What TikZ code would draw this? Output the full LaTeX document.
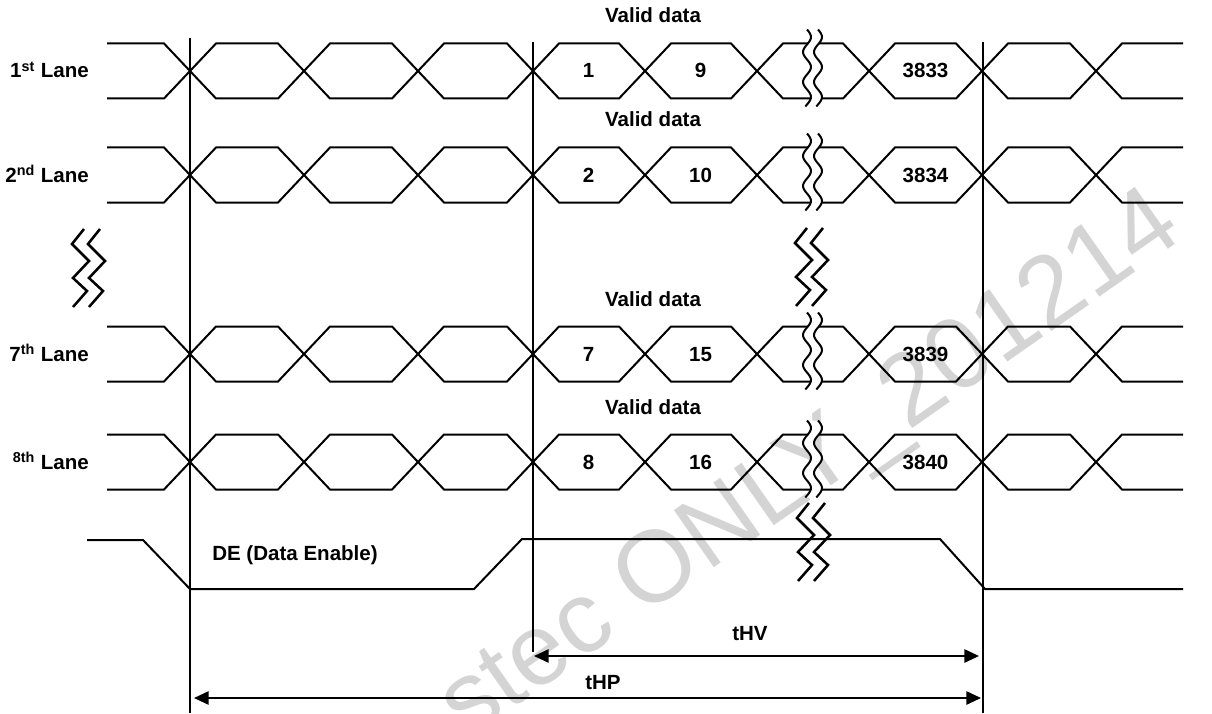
\documentclass[tikz,border=0pt]{standalone}
\usepackage{fontspec}
\setmainfont{Liberation Sans}
\usetikzlibrary{arrows.meta, positioning, calc}
\definecolor{wmgray}{RGB}{212,212,212}

% squiggle break across one lane: x, top y
\newcommand{\lanebreak}[2]{%
  \fill[white] plot[domain=0:77, samples=40] ({#1+4*sin(\x*12)},{#2+\x})
    -- plot[domain=77:0, samples=40] ({#1+11+4*sin(\x*12)},{#2+\x}) -- cycle;
  \draw[sig] plot[domain=0:77, samples=40] ({#1+4*sin(\x*12)},{#2+\x});
  \draw[sig] plot[domain=0:77, samples=40] ({#1+11+4*sin(\x*12)},{#2+\x});
}
% double zigzag between lanes: left x, top y
\newcommand{\zigmark}[2]{%
  \foreach \dx in {0,16}
    \draw[brk] (#1+\dx+12,#2) -- (#1+\dx,#2+15) -- (#1+\dx+17,#2+32)
      -- (#1+\dx+1,#2+49) -- (#1+\dx+15,#2+62) -- (#1+\dx+1,#2+78);
}

\begin{document}
\begin{tikzpicture}[
    x=0.75pt, y=-0.75pt,
    sig/.style={line width=1.5pt},
    brk/.style={line width=1.9pt},
    txt/.style={font=\fontsize{15.4}{18}\selectfont\bfseries, inner sep=0pt},
    dim/.style={{Triangle[length=11pt,width=10pt]}-{Triangle[length=11pt,width=10pt]}, line width=1.3pt},
    wm/.style={text=wmgray, font=\fontsize{76}{78}\selectfont, rotate=35}
]
\useasboundingbox (0,0) rectangle (1212,713);

% watermark
\node[wm] (mark) at (812,468) {stec ONLY\_201214};

% lanes
\foreach \yc/\ln/\sfx/\da/\db/\dc in {71/1/st/1/9/3833, 175/2/nd/2/10/3834,
                                      354/7/th/7/15/3839, 462/8/th/8/16/3840} {
  \draw[sig] (107,\yc-27.5)
    \foreach \c/\s in {190/1,304/-1,418/1,533/-1,645/1,757/-1,869/1,982/-1,1096/1}
      { -- (\c-26,\yc-\s*27.5) -- (\c+26,\yc+\s*27.5) } -- (1183,\yc+27.5);
  \draw[sig] (107,\yc+27.5)
    \foreach \c/\s in {190/1,304/-1,418/1,533/-1,645/1,757/-1,869/1,982/-1,1096/1}
      { -- (\c-26,\yc+\s*27.5) -- (\c+26,\yc-\s*27.5) } -- (1183,\yc-27.5);
  \lanebreak{807}{\yc-41.5}
  \node[txt, anchor=base] (valid\ln) at (653,\yc-48) {Valid data};
  \node[txt, anchor=base] (da\ln) at (588.5,\yc+7) {\da};
  \node[txt, anchor=base] (db\ln) at (700.5,\yc+7) {\db};
  \node[txt, anchor=base] (dc\ln) at (925.5,\yc+7) {\dc};
}
\node[txt, anchor=base east] (lane1) at (89,78) {1\textsuperscript{st} Lane};
\node[txt, anchor=base east] (lane2) at (89,182) {2\textsuperscript{nd} Lane};
\node[txt, anchor=base east] (lane7) at (89,361) {7\textsuperscript{th} Lane};
\node[txt, anchor=base east] (lane8) at (89,469) {\textsuperscript{8th} Lane};

% skipped lanes and lines
\zigmark{72}{229}
\zigmark{795}{228}

% DE
\draw[sig] (87,540) -- (143,540) -- (190,589) -- (474,589) -- (522,539)
  -- (940,539) -- (985,589) -- (1183,589);
\node[txt, anchor=base west] (de) at (212,560) {DE (Data Enable)};
\zigmark{797}{503}

% reference lines
\coordinate (vl) at (190,38);
\coordinate (vm) at (533,42);
\coordinate (vr) at (983,42);
\draw[sig] (vl) -- (vl |- 0,713);
\draw[sig] (vm) -- (vm |- 0,652);
\draw[sig] (vr) -- (vr |- 0,713);

% timing arrows
\draw[dim] ($(vm |- 0,656)+(1,0)$) -- ($(vr |- 0,656)+(-4,0)$);
\node[txt, anchor=base] (thv) at (750,640) {tHV};
\draw[dim] ($(vl |- 0,698)+(4,0)$) -- ($(vr |- 0,698)+(-2,0)$);
\node[txt, anchor=base] (thp) at (603,689) {tHP};
\end{tikzpicture}
\end{document}
